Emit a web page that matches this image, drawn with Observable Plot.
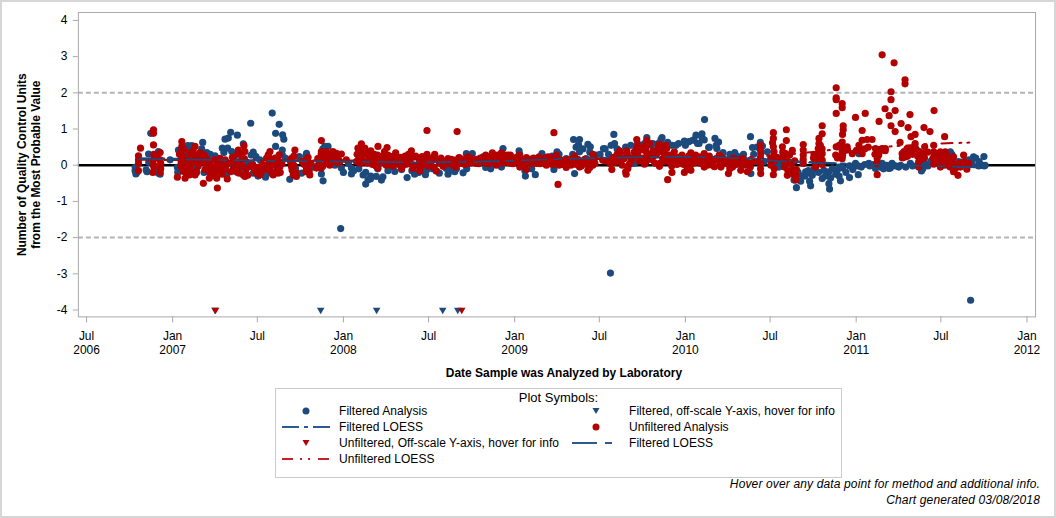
<!DOCTYPE html>
<html><head><meta charset="utf-8">
<script src="https://cdn.jsdelivr.net/npm/d3@7"></script>
<script src="https://cdn.jsdelivr.net/npm/@observablehq/plot@0.6"></script>
<style>
html,body{margin:0;padding:0;background:#fff}
#page{position:relative;width:1056px;height:518px;box-sizing:border-box;border:2px solid #d6d6d6;font-family:"Liberation Sans",Arial,sans-serif;font-size:12px;color:#000;overflow:hidden}
#chart{position:absolute;left:-2px;top:-2px}
#legend{position:absolute;left:273px;top:386px;width:565px;height:88px;border:1px solid #ccc;background:#fff}
#legend .t{position:absolute;left:0;width:100%;top:1px;text-align:center;font-size:13px}
#legend .r{position:absolute;line-height:16px;white-space:nowrap;letter-spacing:.05px}
#legend svg{position:absolute}
#foot{position:absolute;right:14px;top:474px;text-align:right;font-style:italic;line-height:16px;letter-spacing:.14px}
</style></head><body>
<div id="page"><div id="chart"></div><div id="legend"></div>
<div id="foot">Hover over any data point for method and additional info.<br>Chart generated 03/08/2018</div></div>
<script>
const filteredYear=[2006.781,2006.785,2006.845,2006.859,2006.872,2006.917,2006.917,2006.927,2007.028,2007.034,2007.089,2007.112,2007.102,2007.176,2007.184,2007.200,2007.248,2007.291,2007.307,2007.326,2007.340,2007.322,2007.379,2007.346,2007.414,2007.457,2007.472,2007.488,2007.472,2007.544,2007.583,2007.624,2007.603,2007.644,2007.651,2007.603,2007.642,2007.642,2007.686,2007.741,2007.784,2007.755,2007.862,2007.871,2007.881,2007.891,2007.910,2007.988,2008.047,2008.047,2008.115,2008.144,2008.158,2008.130,2008.192,2008.212,2007.706,2007.316,2007.297,2007.355,2007.404,2007.258,2007.161,2007.112,2006.985,2007.511,
2008.222,2008.231,2008.300,2008.372,2008.416,2008.479,2008.543,2008.611,2008.650,2008.699,2008.718,2008.753,2008.831,2008.932,2008.942,2008.923,2009.026,2009.063,2009.121,2009.160,2009.230,2009.248,2009.345,2009.380,2009.374,2009.429,2009.443,2009.380,2009.520,2009.581,2009.585,2009.565,2009.351,2009.774,2009.863,2009.857,2009.896,2009.945,2009.994,2010.062,2010.042,2010.071,2009.809,2009.711,2009.478,2009.419,2009.302,2008.874,2008.816,2008.601,2008.485,2008.270,2009.701,2009.867,
2010.112,2010.097,2010.097,2010.173,2010.194,2010.136,2010.184,2010.289,2010.381,2010.393,2010.439,2010.451,2010.480,2010.227,2010.324,2010.383,2010.537,2010.607,2010.636,2010.650,2010.675,2010.727,2010.733,2010.743,2010.704,2010.801,2010.840,2010.844,2010.840,2010.908,2010.889,2010.961,2011.012,2010.996,2011.016,2011.074,2011.152,2011.191,2011.210,2011.249,2011.317,2011.382,2011.405,2011.386,2011.463,2011.551,2011.687,2011.748,2011.677,2011.736,2011.755,2011.717,2011.113,2010.899,2010.811,2010.733,2010.548,
2007.984,2009.561,2011.670];
const filteredValue=[-.06,-.24,-.13,.31,.88,.38,-.22,-.25,-.06,.42,.54,.54,.42,.63,-.20,.35,.26,.47,.72,.75,.91,.47,.83,.38,.59,1.16,.36,.24,-.22,-.33,1.44,1.13,.88,.84,.72,.52,.42,.29,-.39,.24,.33,-.22,.19,-.24,-.43,.52,.52,-.08,-.08,-.24,-.27,-.40,-.38,-.52,-.31,.06,-.04,-.27,-.17,-.08,-.08,-.04,.15,-.04,.15,.15,
-.41,-.32,-.17,-.34,-.25,-.26,-.16,-.25,-.18,-.21,.32,.32,-.06,.46,.28,-.05,.40,-.30,-.26,.32,-.12,.37,.71,.71,.57,.58,.51,.37,.46,.85,.60,.55,-.23,.76,.76,.71,.63,.55,.67,.83,.69,.60,.60,.46,.28,.18,.18,.05,.23,-.09,-.14,-.05,.05,.37,
1.26,.87,.76,.74,.64,.49,.46,.35,.79,.49,.63,.53,.37,.14,.23,-.23,.05,.09,-.41,-.62,-.44,-.44,-.57,-.28,-.18,-.37,-.51,-.66,-.18,-.43,-.14,-.34,-.26,.05,.32,.05,.05,-.09,.05,-.05,.05,-.16,.05,.32,.28,.37,.23,.24,.09,0,0,-.02,-.09,-.05,-.14,-.23,-.05,
-1.75,-2.98,-3.73];
const filteredBand=[[2009.40,.45],[2009.44,.36],[2009.47,.2],[2009.50,.3],[2009.53,.45],[2009.55,.3],[2009.60,.45],[2009.65,.5],[2009.68,.55],[2009.72,.6],[2009.76,.6],[2009.80,.55],[2009.84,.6],[2009.88,.55],[2009.92,.55],[2009.96,.6],[2010.0,.55],[2010.02,.65],[2010.05,.7],[2010.08,.6],[2010.11,.7],[2010.14,.5],[2010.18,.55],[2010.22,.35],[2010.26,.3],[2010.3,.25],[2010.34,.3],[2010.42,.5],
[2010.92,-.08],[2010.94,-.2],[2010.96,-.02],[2010.98,-.12],[2011.01,-.02],[2011.03,-.05],[2011.05,.02],[2011.08,-.02],[2011.10,.02],[2011.14,-.05],[2011.16,-.1],[2011.18,.0],[2011.2,-.08],[2011.23,-.02],[2011.26,.0],[2011.29,-.05],[2011.33,-.02],[2011.36,.0],[2011.39,-.1],[2011.42,-.02],[2011.44,.12],[2011.47,.08],[2011.5,.2],[2011.53,.05],[2011.56,.3],[2011.6,.1],[2011.62,.08],[2011.64,.1],[2011.66,.15],[2011.68,.02],[2011.70,.2],[2011.72,.1],[2011.74,.0],[2011.75,-.02],
[2010.66,-.2],[2010.68,-.3],[2010.70,-.3],[2010.72,-.15],[2010.75,-.12],[2010.78,-.2],[2010.82,-.3],[2010.85,-.35],[2010.86,-.1],[2010.88,-.25],[2010.9,-.3],[2010.4,.3],[2010.42,.1],[2010.46,.1],[2010.5,.15],[2010.52,.0],[2010.55,.2],[2010.57,.05],
[2006.78,-.15],[2006.79,-.2],[2006.85,-.18],[2006.86,.08],[2006.92,-.1],[2006.93,.0],[2007.03,-.2],[2007.08,.3],[2007.12,.2],[2007.14,-.1],[2007.17,.45],[2007.22,.3],[2007.3,.35],[2007.36,.2],[2007.38,-.2],[2007.44,.05],[2007.46,.28],[2007.5,-.3],[2007.55,-.25],[2007.66,.2],[2007.7,.1],[2007.72,-.1],[2007.76,.1],[2007.78,.25],[2007.82,-.05],[2007.85,.0],[2007.88,.45],[2007.92,.25],[2007.95,.0],[2008.0,-.2],[2008.03,.05],[2008.06,-.15],[2008.09,-.1],[2008.13,-.2],[2008.16,-.3],[2008.2,-.1],
[2008.26,-.15],[2008.34,-.12],[2008.4,-.15],[2008.44,-.2],[2008.52,-.1],[2008.56,-.22],[2008.62,-.15],[2008.66,-.1],[2008.72,-.1],[2008.74,.25],[2008.86,-.1],[2008.92,.3],[2008.96,.2],[2009.0,.1],[2009.03,.3],[2009.06,-.15],[2009.1,-.1],[2009.14,.1],[2009.18,.2],[2009.22,.25],[2009.26,.3],[2009.3,.1],[2009.34,.3],[2009.36,.5]];
const unfilteredYear=[2006.888,2006.888,2006.812,2006.888,2006.800,2006.927,2006.800,2006.927,2006.800,2006.884,2006.927,2006.888,2006.888,2007.028,2007.054,2007.054,2007.048,2007.048,2007.048,2007.063,2007.073,2007.102,2007.092,2007.092,2007.098,2007.131,2007.131,2007.141,2007.131,2007.180,2007.184,2007.190,2007.219,2007.219,2007.215,2007.262,2007.258,2007.248,2007.243,2007.277,2007.297,2007.320,2007.307,2007.355,2007.375,2007.385,2007.418,2007.423,2007.371,2007.414,2007.423,2007.404,2007.453,2007.482,2007.511,2007.515,2007.560,2007.570,2007.566,2007.570,2007.589,2007.618,2007.624,2007.628,2007.696,2007.716,2007.696,2007.706,2007.725,2007.784,2007.793,2007.784,2007.803,2007.842,2007.871,2007.871,2007.871,2007.871,2007.900,2007.910,2007.939,2007.959,2007.988,2007.969,2008.017,2008.076,2008.085,2008.105,2008.125,2008.144,2008.183,2008.202,2008.202,
2008.488,2008.664,2009.230,2009.254,2008.255,2008.305,2008.397,2008.422,2008.488,2008.533,2008.611,2008.675,2008.728,2008.831,2008.870,2008.923,2008.975,2009.026,2009.069,2009.143,2009.195,2009.244,2009.351,2009.458,2009.614,2009.657,2009.715,2009.774,2009.770,2009.848,2009.886,2009.935,2010.032,
2008.251,2008.300,2008.339,2008.407,2008.446,2008.494,2008.543,2008.582,2008.656,2008.699,2008.777,2008.835,2008.893,2008.952,2009.030,2009.069,2009.127,2009.186,2009.244,2009.302,2009.380,2009.429,2009.458,2009.569,2009.653,2009.663,2009.760,2009.848,2009.896,2009.921,2009.994,2010.032,
2008.231,2008.270,2008.348,2008.387,2008.446,2008.504,2008.601,2008.679,2008.738,2008.796,2008.855,2008.923,2008.991,2009.078,2009.146,2009.224,2009.283,2009.341,2009.400,2009.458,2009.516,2009.575,2009.614,2009.711,2009.770,2009.809,2009.848,2009.867,2009.925,2009.964,2010.023,2010.062,
2011.152,2011.222,2011.286,2011.286,2011.204,2011.204,2010.883,2010.883,2010.883,2010.918,2010.918,2010.883,2011.053,2011.169,2011.228,2011.193,2011.315,2010.996,2011.134,2011.456,2011.263,2011.204,2011.228,2011.304,2011.397,2011.432,2010.924,2010.924,2011.035,2010.801,2010.801,2010.591,2010.515,2010.591,2010.515,2010.782,2010.782,2010.778,2010.801,2010.801,2011.518,2011.321,2011.345,2011.257,2011.345,2010.918,2010.883,2010.947,2011.035,2011.064,2011.093,2011.016,2010.977,2011.035,2011.113,2011.152,2011.123,2011.123,2011.132,2011.171,2011.269,2011.298,2011.327,2011.397,2011.401,2011.454,2011.454,2011.493,2011.522,2011.570,2011.629,2011.288,2011.366,2011.366,2011.454,2011.493,2011.532,2011.570,2011.596,2011.648,2011.619,2010.439,2010.441,2010.441,2010.441,2010.515,2010.519,2010.500,2010.515,2010.568,2010.587,2010.626,2010.587,2010.597,2010.646,2010.646,2010.626,2010.690,2010.690,2010.690,2010.753,2010.762,2010.918,2010.918,2010.373,2010.363,2010.324,2010.295,2010.256,2010.252,2010.198,2010.208,2010.159,2010.110,2010.110,2010.081,2010.169,2010.276];
const unfilteredValue=[.98,.88,.47,.56,.26,.35,.15,.15,-.15,-.20,-.20,.01,.15,-.33,.65,.52,.38,.15,-.04,-.17,-.36,.33,.15,-.08,-.27,.52,.29,.06,-.27,-.50,.29,.06,-.08,-.22,-.36,-.63,-.36,-.13,.15,.19,-.04,-.38,.15,.10,-.04,.42,.54,.38,-.17,-.27,-.31,.15,-.04,-.13,-.27,-.04,.29,.38,.10,-.13,-.27,-.22,.29,-.04,.19,.42,-.04,-.27,-.31,.15,.22,-.08,-.27,-.08,.68,.38,.19,-.08,.38,.15,.38,.33,.31,.06,.15,.10,.47,.59,.47,.29,.15,.52,-.08,
.96,.93,.90,-.53,.49,.34,.40,.25,.30,.30,.18,.21,.23,.28,.34,.34,.28,.28,.21,.23,.23,.28,.25,.30,.40,.40,.71,.69,.51,.58,.55,.37,.34,
.14,.05,-.09,-.09,-.16,-.03,-.16,-.03,-.05,.05,.05,.05,0,.09,-.05,-.12,.05,0,.05,-.06,-.05,-.14,0,-.12,-.25,-.09,.03,-.03,-.40,-.20,-.20,-.14,
.25,.18,.14,.14,.09,.14,.09,.05,.14,.14,.14,.18,.14,.09,.12,.14,.09,.05,.09,.18,.14,.18,.23,.41,.37,.23,.37,.18,.14,.05,.09,.18,
3.05,2.83,2.36,2.25,2.03,1.81,2.14,1.86,1.81,1.70,1.59,1.43,1.43,1.56,1.51,1.37,1.40,1.32,1.21,1.51,1.15,1.09,.93,1.04,1.04,.93,1.09,.98,.96,1.09,.87,.98,.90,.68,.74,.74,.60,.46,.32,.14,.79,.79,.85,.63,.60,.64,.51,.51,.69,.71,.71,.55,.32,.32,.46,.46,.18,-.26,.28,.46,.32,.46,.46,.32,.51,.55,.37,.37,.37,.23,.28,.23,.09,-.05,.03,-.05,.05,-.18,-.28,-.11,.05,.55,.32,.05,-.23,.51,.37,0,-.26,.51,.32,.41,.05,-.28,-.28,-.41,-.14,.57,.28,.16,.30,-.05,.37,.18,.05,-.18,-.14,.14,.14,-.23,.28,-.05,0,.32,-.05,.23,.14,-.05];
const unfilteredBand=[[2006.80,.05],[2006.89,.3],[2006.89,-.05],[2006.93,.05],[2006.93,-.1],[2006.91,.2],
[2007.04,.30],[2007.05,.05],[2007.06,-.10],[2007.06,.25],[2007.07,.42],[2007.08,-.22],[2007.08,.08],[2007.10,.0],[2007.11,.22],[2007.11,-.14],[2007.12,.40],[2007.12,.10],[2007.14,-.20],[2007.15,.22],[2007.15,-.02],[2007.16,.35],[2007.17,.12],[2007.19,-.12],[2007.20,.18],[2007.21,-.02],[2007.22,.10],[2007.23,-.28],[2007.24,-.06],[2007.25,-.24],[2007.26,.04],[2007.27,-.14],[2007.28,.08],[2007.29,-.25],[2007.30,.12],[2007.31,-.10],[2007.33,.05],[2007.34,-.18],[2007.35,.22],[2007.36,-.10],[2007.38,.30],[2007.39,.05],[2007.39,-.22],[2007.40,.30],[2007.41,-.02],[2007.42,.18],[2007.43,-.12],[2007.44,-.28],
[2007.47,.02],[2007.49,-.22],[2007.50,-.06],[2007.52,-.18],[2007.53,.02],[2007.55,.20],[2007.55,-.10],[2007.56,.0],[2007.57,.18],[2007.58,-.20],[2007.59,.02],[2007.60,.20],[2007.61,-.12],[2007.62,.12],[2007.63,-.20],[2007.64,.04],
[2007.69,.10],[2007.70,-.14],[2007.71,.0],[2007.72,-.20],[2007.71,.25],[2007.77,.02],[2007.78,-.18],[2007.79,.10],[2007.80,-.16],[2007.79,-.02],[2007.81,.05],[2007.76,.10],
[2007.85,.18],[2007.86,.02],[2007.87,.30],[2007.88,-.02],[2007.89,.25],[2007.90,.05],[2007.91,.28],[2007.92,.0],[2007.93,.22],[2007.94,.10],[2007.96,.22],[2007.97,.16],[2007.98,.10],
[2008.08,.30],[2008.09,.18],[2008.10,.40],[2008.10,.05],[2008.11,.28],[2008.12,.12],[2008.13,.36],[2008.14,.06],[2008.15,.20],[2008.16,.40],[2008.17,.02],[2008.18,.30],[2008.19,-.02],[2008.20,.28],[2008.21,.10],
[2008.23,.08],[2008.24,.38],[2008.25,.0],[2008.26,.28],[2008.27,.06],[2008.28,.24],[2008.29,-.02],[2008.31,.18],[2008.32,.02],[2008.33,.22],[2008.35,.0],[2008.36,.25],[2008.37,.03],[2008.38,.30],[2008.40,.02],[2008.41,.22],[2008.43,.0],[2008.44,.2],[2008.45,-.06],[2008.46,.24],[2008.47,.02],[2008.48,.16],[2008.49,.22],[2008.51,.04],[2008.52,.2],[2008.53,-.06],[2008.54,.16],[2008.56,.06],[2008.57,.2],[2008.58,.12],[2008.59,.02],[2008.62,.04],[2008.63,.16],[2008.64,.0],[2008.65,.14],[2008.67,.08],[2008.68,.2],[2008.70,.14],[2008.71,.02],[2008.72,.2],[2008.74,.06],[2008.75,.18],[2008.76,.08],[2008.78,.16],[2008.79,.04],[2008.80,.2],[2008.82,.1],[2008.83,.2],[2008.84,.12],[2008.85,.04],[2008.86,.24],[2008.87,.1],[2008.88,.22],[2008.89,.12],[2008.90,.28],[2008.91,.08],[2008.92,.26],[2008.93,.06],[2008.94,.24],[2008.95,.16],[2008.96,.28],[2008.97,.06],[2008.98,.2],[2008.99,.04],
[2009.01,.22],[2009.02,.10],[2009.03,.18],[2009.04,.0],[2009.05,.14],[2009.06,.02],[2009.07,.1],[2009.09,.16],[2009.10,.04],[2009.11,.2],[2009.12,.1],[2009.13,.18],[2009.15,.04],[2009.16,.14],[2009.17,.08],[2009.18,.2],[2009.20,.08],[2009.21,.2],[2009.22,.02],[2009.23,.12],[2009.25,.18],[2009.26,.0],[2009.27,.14],[2009.28,.02],[2009.29,.14],[2009.31,.04],[2009.32,.16],[2009.33,.0],[2009.34,.12],[2009.36,.02],[2009.37,.16],[2009.38,.1],[2009.39,-.02],[2009.41,.16],[2009.42,.02],[2009.43,.12],[2009.44,-.06],[2009.45,.12],[2009.46,.24],[2009.47,.05],
[2009.53,.12],[2009.55,.1],[2009.56,.04],[2009.58,.22],[2009.59,.08],[2009.60,.3],[2009.61,.12],[2009.62,.34],[2009.63,.0],[2009.64,.18],[2009.65,-.18],[2009.66,.3],[2009.67,.02],[2009.68,.1],[2009.69,.2],[2009.70,.36],[2009.72,.55],[2009.72,.3],[2009.73,.12],[2009.74,.42],[2009.75,.2],[2009.76,.52],[2009.77,.1],[2009.78,.3],[2009.79,.6],[2009.80,.16],[2009.81,.4],[2009.82,.06],[2009.83,.3],[2009.84,.5],[2009.85,.05],[2009.86,.42],[2009.87,.1],[2009.88,.3],[2009.89,.46],[2009.90,.1],[2009.91,.28],[2009.92,-.02],[2009.94,.2],[2009.95,.02],[2009.96,.22],[2009.97,.08],[2009.98,.28],[2009.99,.02],[2010.00,.18],[2010.01,-.08],[2010.02,.26],[2010.03,.0],[2010.04,.2],[2010.05,.06],[2010.06,.28],[2010.07,.12],
[2010.09,.05],[2010.10,.2],[2010.12,.14],[2010.13,.0],[2010.14,.25],[2010.15,.08],[2010.17,-.04],[2010.18,.18],[2010.20,.1],[2010.21,.0],[2010.22,.2],[2010.24,.12],[2010.25,.03],[2010.26,-.1],[2010.27,.08],[2010.28,.2],[2010.30,.02],[2010.31,.1],[2010.32,.04],[2010.34,.18],[2010.35,.0],[2010.36,.1],[2010.38,-.05],[2010.40,.1],
[2010.44,.2],[2010.44,.42],[2010.44,-.1],[2010.44,.12],[2010.50,.2],[2010.50,.1],[2010.51,.62],[2010.52,.25],[2010.52,.12],[2010.52,-.1],[2010.56,.2],[2010.57,.36],[2010.58,.1],[2010.58,-.05],[2010.59,.2],[2010.60,-.15],[2010.61,.28],[2010.62,.02],[2010.63,-.25],[2010.64,.12],[2010.65,-.12],[2010.69,.42],[2010.69,.05],[2010.75,.2],[2010.76,.08],[2010.78,.32],[2010.78,.2],[2010.79,.55],[2010.80,.45],[2010.80,.02],
[2010.88,.28],[2010.89,.2],[2010.90,.55],[2010.92,.5],[2010.92,.85],[2010.92,.27],[2010.93,.4],[2010.95,.42],[2011.00,.4],[2011.02,.42],[2011.05,.45],[2011.07,.5],[2011.11,.3],[2011.12,.05],[2011.14,.4],[2011.17,.4],[2011.27,.2],[2011.28,.38],[2011.30,.25],[2011.31,.4],[2011.33,.3],[2011.35,.45],[2011.36,.25],[2011.37,.38],[2011.38,.16],[2011.40,.2],[2011.42,.36],[2011.45,.2],[2011.46,.3],[2011.47,.12],[2011.48,.22],[2011.50,.1],[2011.51,.2],[2011.52,.0],[2011.53,.3],[2011.54,.15],[2011.55,-.05],[2011.56,.1],[2011.57,.02],[2011.58,-.1],[2011.60,.05],[2011.61,-.05],[2011.63,.1],[2011.65,-.02],[2011.66,.05]];
const filteredOffYear=[2007.248,2007.867,2008.194,2008.580,2008.668];
const unfilteredOffYear=[2007.251,2008.691];
const offScaleValue=-4;
const loessYear=[2006.80,2007.20,2007.60,2008.00,2008.40,2008.80,2009.20,2009.60,2010.00,2010.30,2010.60,2010.90,2011.20,2011.50,2011.70];
const filteredLoess=[.19,.17,.14,.12,.09,.09,.14,.19,.22,.21,.12,.05,.02,-.02,-.05];
const filteredLoessUpper=[.17,.15,.12,.10,.08,.10,.16,.21,.23,.20,.10,.04,.01,-.03,-.06];
const unfilteredLoess=[.15,.14,.13,.13,.13,.14,.15,.18,.20,.22,.30,.44,.52,.60,.63];
const tickDates=["2006-07","2007-01","2007-07","2008-01","2008-07","2009-01","2009-07","2010-01","2010-07","2011-01","2011-07","2012-01"];
const tickLabels=["Jul\n2006","Jan\n2007","Jul","Jan\n2008","Jul","Jan\n2009","Jul","Jan\n2010","Jul","Jan\n2011","Jul","Jan\n2012"];
const yTicks=[-4,-3,-2,-1,0,1,2,3,4];
const BLUE="#1d4a7d",RED="#b30000",GREY="#a9a9a9";
const D=y=>{const i=Math.floor(y);const a=Date.UTC(i,0,1),b=Date.UTC(i+1,0,1);return new Date(a+(y-i)*(b-a));};
const zip=(xs,ys)=>xs.map((x,i)=>({x:D(x),y:ys[i]}));
const fromPairs=ps=>ps.map(([x,y])=>({x:D(x),y}));
const T=s=>new Date(s+"-01T00:00:00Z");
const chart=Plot.plot({
  width:1056,height:382,marginLeft:78,marginRight:19,marginTop:12,marginBottom:65,
  style:{fontFamily:"'Liberation Sans',Arial,sans-serif",fontSize:"12px",background:"transparent",color:"#000"},
  x:{type:"utc",domain:[D(2006.448),D(2012.05)]},
  y:{domain:[-4.19,4.22]},
  marks:[
    Plot.ruleY([2,-2],{stroke:"#b4b4b4",strokeWidth:2,strokeDasharray:"5,3"}),
    Plot.ruleY([0],{stroke:"#000",strokeWidth:2.5}),
    Plot.frame({stroke:GREY}),
    Plot.axisY({ticks:yTicks,tickFormat:d=>String(d),tickSize:5,stroke:GREY,fill:"#000",tickPadding:6,label:null,fontSize:12}),
    Plot.axisX({ticks:tickDates.map(T),tickFormat:d=>tickLabels[tickDates.indexOf(d.toISOString().slice(0,7))],tickSize:6,stroke:GREY,fill:"#000",tickPadding:6,lineHeight:1.25,fontSize:12,label:null}),
    Plot.text(["Date Sample was Analyzed by Laboratory"],{frameAnchor:"bottom",dy:60,dx:7,fontWeight:"bold",fontSize:12}),
    Plot.text(["Number of Quality Control Units\nfrom the Most Probable Value"],{frameAnchor:"left",textAnchor:"middle",rotate:-90,dx:-50,fontWeight:"bold",fontSize:12,lineHeight:1.17}),
    Plot.dot(zip(filteredYear,filteredValue).concat(fromPairs(filteredBand)),{x:"x",y:"y",r:3.6,fill:BLUE}),
    Plot.line(zip(loessYear,filteredLoess),{x:"x",y:"y",stroke:BLUE,strokeWidth:2,strokeDasharray:"17 5 4 5",curve:"monotone-x"}),
    Plot.dot(zip(unfilteredYear,unfilteredValue).concat(fromPairs(unfilteredBand)),{x:"x",y:"y",r:3.6,fill:RED}),
    Plot.dot(filteredOffYear.map(D),{x:d=>d,y:()=>offScaleValue,symbol:"triangle",rotate:180,r:2.8,fill:BLUE}),
    Plot.dot(unfilteredOffYear.map(D),{x:d=>d,y:()=>offScaleValue,symbol:"triangle",rotate:180,r:2.8,fill:RED}),
    Plot.line(zip(loessYear,unfilteredLoess),{x:"x",y:"y",stroke:RED,strokeWidth:2,strokeDasharray:"11 7 2 6 2 7",curve:"monotone-x"}),
    Plot.line(zip(loessYear,filteredLoessUpper),{x:"x",y:"y",stroke:BLUE,strokeWidth:1.6,strokeDasharray:"25 8 7 8",curve:"monotone-x"})
  ]
});
document.getElementById("chart").appendChild(chart);
const legendRows=[
  {label:"Filtered Analysis",col:0,row:0,kind:"dot",color:BLUE},
  {label:"Filtered LOESS",col:0,row:1,kind:"line",color:"#2a5a94",dash:"17 5 4 5 17"},
  {label:"Unfiltered, Off-scale Y-axis, hover for info",col:0,row:2,kind:"tri",color:RED},
  {label:"Unfiltered LOESS",col:0,row:3,kind:"line",color:"#c8202a",dash:"11 7 2 6 2 8 11"},
  {label:"Filtered, off-scale Y-axis, hover for info",col:1,row:0,kind:"tri",color:BLUE},
  {label:"Unfiltered Analysis",col:1,row:1,kind:"dot",color:RED},
  {label:"Filtered LOESS",col:1,row:2,kind:"line",color:"#2a5a94",dash:"25 8 7 8"}
];
const lg=document.getElementById("legend");
lg.innerHTML='<div class="t">Plot Symbols:</div>'+legendRows.map(r=>{
  const left=r.col?290:0,top=14+r.row*16;
  const g=r.kind==="dot"?`<circle cx="24" cy="8" r="3.5" fill="${r.color}"/>`:
          r.kind==="tri"?`<path d="M20.5 5 L27.5 5 L24 11 Z" fill="${r.color}"/>`:
          `<line x1="0" x2="48" y1="8" y2="8" stroke="${r.color}" stroke-width="2" stroke-dasharray="${r.dash}"/>`;
  return `<svg width="48" height="16" style="left:${left+6}px;top:${top}px">${g}</svg><div class="r" style="left:${left+63}px;top:${top}px">${r.label}</div>`;
}).join("");
</script></body></html>
